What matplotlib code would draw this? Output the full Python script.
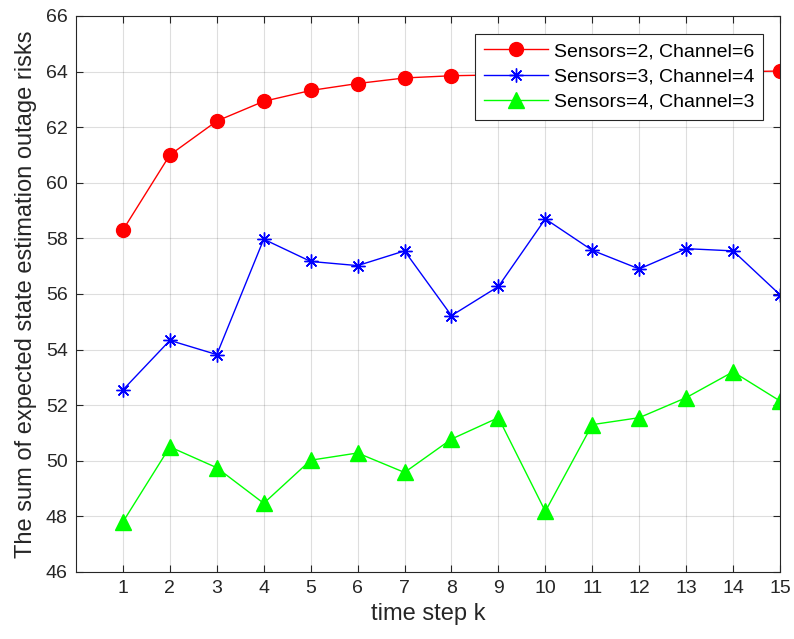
import numpy as np
import matplotlib.pyplot as plt

plt.rcParams['font.family'] = ['Liberation Sans', 'DejaVu Sans']

k = np.arange(1, 16)
risk_s2_c6 = [58.3, 61.0, 62.22, 62.93, 63.32, 63.57, 63.77, 63.85, 63.88,
              63.92, 63.95, 63.97, 63.98, 63.99, 64.02]
risk_s3_c4 = [52.55, 54.33, 53.82, 57.97, 57.17, 57.02, 57.55, 55.22, 56.27,
              58.7, 57.57, 56.9, 57.63, 57.55, 55.97]
risk_s4_c3 = [47.8, 50.5, 49.75, 48.47, 50.02, 50.28, 49.58, 50.78, 51.55,
              48.18, 51.3, 51.55, 52.27, 53.2, 52.15]
labels = ['Sensors=2, Channel=6', 'Sensors=3, Channel=4', 'Sensors=4, Channel=3']

fig = plt.figure(figsize=(7.94, 6.39), dpi=100)
ax = fig.add_axes([0.0957, 0.1049, 0.8867, 0.8701])

ax.plot(k, risk_s2_c6, color='red', lw=1, marker='o', ms=10,
        mfc='red', mec='red', label=labels[0])
ax.plot(k, risk_s3_c4, color='blue', lw=1, marker=(8, 2, 0), ms=10,
        mew=1, label=labels[1])
ax.plot(k, risk_s4_c3, color='#00ff00', lw=1, marker='^', ms=11,
        mfc='#00ff00', mec='#00ff00', label=labels[2])

ax.set_xlim(0, 15)
ax.set_ylim(46, 66)
ax.set_xticks(k)
ax.set_yticks(np.arange(46, 67, 2))
ax.grid(True, color='#262626', alpha=0.15, lw=0.8)
ax.tick_params(direction='in', top=True, right=True, labelsize=14,
               colors='#262626', length=5, pad=6)
for s in ax.spines.values():
    s.set_color('#262626')
    s.set_linewidth(0.8)

ax.set_xlabel('time step k', fontsize=17, color='#262626', labelpad=4)
ax.set_ylabel('The sum of expected state estimation outage risks', fontsize=17,
              color='#262626', labelpad=6)

leg = ax.legend(loc='upper right', fontsize=14,
                fancybox=False, edgecolor='#262626', framealpha=1,
                borderpad=0.45, labelspacing=0.4, handlelength=3.3,
                handletextpad=0.3, borderaxespad=0)
leg.set_bbox_to_anchor((0.976, 0.968), transform=ax.transAxes)
leg.get_frame().set_linewidth(0.8)

fig.savefig('out.png', dpi=100)
